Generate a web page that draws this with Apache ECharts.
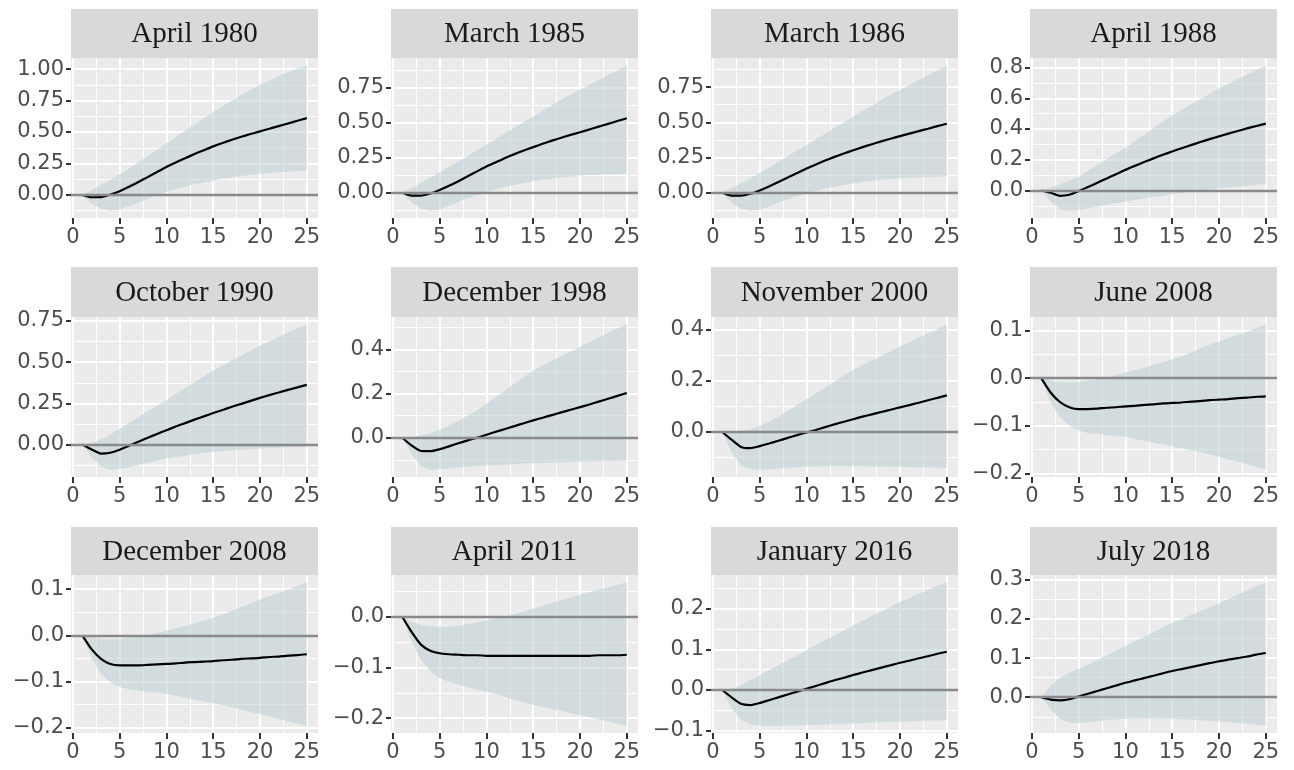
<!DOCTYPE html>
<html><head><meta charset="utf-8">
<script src="https://cdn.jsdelivr.net/npm/echarts@6/dist/echarts.min.js"></script>
<style>html,body{margin:0;padding:0;background:#fff}#c{width:1294px;height:770px}</style>
</head><body><div id="c"></div>
<script>
// ---------------- data ----------------
const horizons = [1,2,3,4,5,6,7,8,9,10,11,12,13,14,15,16,17,18,19,20,21,22,23,24,25];
const titles = ['April 1980','March 1985','March 1986','April 1988','October 1990','December 1998',
  'November 2000','June 2008','December 2008','April 2011','January 2016','July 2018'];
const xTicks = [0,5,10,15,20,25];

const irf1 = [0,-0.018,-0.017,0.003,0.03,0.065,0.103,0.142,0.183,0.223,0.258,0.292,0.325,0.356,0.386,0.413,0.438,0.462,0.484,0.505,0.526,0.547,0.568,0.589,0.61];
const upper1 = [0,0.04,0.08,0.12,0.165,0.21,0.26,0.31,0.36,0.41,0.46,0.51,0.56,0.61,0.66,0.705,0.75,0.795,0.835,0.875,0.91,0.945,0.975,1.005,1.03];
const lower1 = [0,-0.07,-0.11,-0.125,-0.115,-0.09,-0.06,-0.03,0.0,0.025,0.045,0.065,0.085,0.1,0.115,0.128,0.14,0.15,0.16,0.168,0.175,0.18,0.185,0.19,0.195];
const yTicks1 = [0,0.25,0.5,0.75,1.0];

const irf2 = [0,-0.02,-0.02,-0.005,0.02,0.05,0.083,0.118,0.153,0.188,0.218,0.248,0.276,0.302,0.326,0.35,0.372,0.393,0.413,0.432,0.452,0.472,0.492,0.512,0.532];
const upper2 = [0,0.035,0.07,0.105,0.145,0.185,0.225,0.265,0.305,0.345,0.385,0.425,0.465,0.505,0.545,0.585,0.625,0.665,0.7,0.735,0.77,0.805,0.84,0.875,0.91];
const lower2 = [0,-0.07,-0.113,-0.128,-0.12,-0.095,-0.065,-0.04,-0.015,0.005,0.025,0.042,0.057,0.07,0.082,0.093,0.102,0.11,0.117,0.123,0.127,0.13,0.132,0.134,0.136];
const yTicks2 = [0,0.25,0.5,0.75];

const irf3 = [0,-0.02,-0.02,-0.007,0.017,0.045,0.076,0.108,0.14,0.172,0.201,0.229,0.255,0.279,0.302,0.324,0.345,0.365,0.384,0.402,0.42,0.438,0.455,0.473,0.49];
const upper3 = [0,0.035,0.068,0.102,0.14,0.18,0.22,0.26,0.3,0.34,0.38,0.42,0.46,0.5,0.54,0.58,0.62,0.66,0.695,0.73,0.765,0.8,0.835,0.87,0.905];
const lower3 = [0,-0.07,-0.113,-0.127,-0.12,-0.097,-0.07,-0.045,-0.022,-0.003,0.015,0.03,0.044,0.056,0.067,0.077,0.085,0.092,0.098,0.103,0.107,0.11,0.112,0.114,0.115];
const yTicks3 = [0,0.25,0.5,0.75];

const irf4 = [0,-0.015,-0.035,-0.028,-0.005,0.022,0.05,0.078,0.106,0.134,0.16,0.185,0.209,0.232,0.254,0.275,0.295,0.315,0.334,0.352,0.37,0.387,0.404,0.42,0.435];
const upper4 = [0,0.02,0.04,0.065,0.09,0.128,0.166,0.204,0.242,0.28,0.322,0.364,0.406,0.448,0.49,0.525,0.56,0.595,0.63,0.665,0.695,0.725,0.755,0.785,0.815];
const lower4 = [0,-0.07,-0.12,-0.132,-0.128,-0.118,-0.105,-0.093,-0.082,-0.072,-0.062,-0.052,-0.043,-0.034,-0.025,-0.017,-0.009,-0.002,0.005,0.012,0.019,0.025,0.031,0.037,0.043];
const yTicks4 = [0,0.2,0.4,0.6,0.8];

const irf5 = [0,-0.03,-0.055,-0.05,-0.032,-0.008,0.017,0.041,0.064,0.087,0.109,0.13,0.151,0.171,0.191,0.21,0.229,0.247,0.265,0.283,0.3,0.316,0.332,0.347,0.362];
const upper5 = [0,0.01,0.03,0.06,0.095,0.13,0.165,0.2,0.235,0.27,0.306,0.342,0.378,0.414,0.45,0.48,0.51,0.54,0.57,0.6,0.627,0.654,0.68,0.705,0.73];
const lower5 = [0,-0.08,-0.133,-0.153,-0.15,-0.138,-0.124,-0.11,-0.097,-0.085,-0.075,-0.066,-0.058,-0.051,-0.045,-0.04,-0.035,-0.031,-0.027,-0.024,-0.021,-0.019,-0.017,-0.015,-0.013];
const yTicks5 = [0,0.25,0.5,0.75];

const irf6 = [0,-0.035,-0.06,-0.061,-0.052,-0.039,-0.025,-0.012,0.0,0.014,0.027,0.04,0.053,0.066,0.079,0.091,0.103,0.115,0.127,0.139,0.151,0.164,0.177,0.19,0.203];
const upper6 = [0,0.003,0.01,0.02,0.035,0.055,0.077,0.1,0.125,0.155,0.185,0.215,0.245,0.275,0.305,0.328,0.35,0.371,0.392,0.412,0.433,0.454,0.475,0.495,0.515];
const lower6 = [0,-0.075,-0.128,-0.145,-0.143,-0.139,-0.135,-0.132,-0.129,-0.126,-0.124,-0.122,-0.12,-0.118,-0.116,-0.114,-0.113,-0.111,-0.11,-0.109,-0.108,-0.107,-0.106,-0.105,-0.104];
const yTicks6 = [0,0.2,0.4];

const irf7 = [0,-0.03,-0.058,-0.063,-0.055,-0.045,-0.034,-0.023,-0.012,-0.002,0.008,0.019,0.03,0.04,0.05,0.06,0.069,0.078,0.087,0.096,0.105,0.114,0.124,0.133,0.143];
const upper7 = [0,0.0,0.003,0.01,0.022,0.04,0.06,0.082,0.105,0.128,0.151,0.174,0.197,0.22,0.243,0.261,0.279,0.297,0.315,0.333,0.35,0.367,0.384,0.401,0.42];
const lower7 = [0,-0.08,-0.13,-0.145,-0.147,-0.145,-0.142,-0.139,-0.137,-0.135,-0.134,-0.133,-0.133,-0.133,-0.133,-0.133,-0.134,-0.134,-0.135,-0.135,-0.136,-0.137,-0.138,-0.139,-0.14];
const yTicks7 = [0,0.2,0.4];

const irf8 = [0,-0.03,-0.05,-0.061,-0.065,-0.065,-0.064,-0.062,-0.061,-0.059,-0.058,-0.056,-0.055,-0.053,-0.052,-0.051,-0.049,-0.048,-0.046,-0.045,-0.044,-0.042,-0.041,-0.039,-0.038];
const upper8 = [0,-0.005,-0.008,-0.009,-0.008,-0.005,-0.002,0.001,0.006,0.012,0.017,0.022,0.028,0.033,0.039,0.046,0.054,0.062,0.07,0.077,0.084,0.091,0.098,0.105,0.113];
const lower8 = [0,-0.05,-0.082,-0.1,-0.11,-0.115,-0.117,-0.119,-0.121,-0.123,-0.127,-0.131,-0.135,-0.139,-0.143,-0.147,-0.151,-0.155,-0.16,-0.165,-0.17,-0.175,-0.18,-0.186,-0.192];
const yTicks8 = [-0.2,-0.1,0,0.1];

const irf9 = [0,-0.03,-0.051,-0.062,-0.065,-0.065,-0.065,-0.064,-0.063,-0.062,-0.061,-0.059,-0.058,-0.057,-0.056,-0.054,-0.053,-0.051,-0.05,-0.049,-0.047,-0.046,-0.044,-0.043,-0.041];
const upper9 = [0,-0.005,-0.008,-0.009,-0.008,-0.005,-0.002,0.001,0.005,0.01,0.015,0.02,0.026,0.032,0.038,0.045,0.053,0.061,0.069,0.077,0.085,0.092,0.099,0.107,0.115];
const lower9 = [0,-0.05,-0.083,-0.102,-0.112,-0.117,-0.12,-0.122,-0.124,-0.127,-0.131,-0.135,-0.139,-0.143,-0.147,-0.151,-0.156,-0.161,-0.166,-0.171,-0.176,-0.181,-0.186,-0.191,-0.196];
const yTicks9 = [-0.2,-0.1,0,0.1];

const irf10 = [0,-0.03,-0.055,-0.067,-0.072,-0.074,-0.075,-0.076,-0.076,-0.077,-0.077,-0.077,-0.077,-0.077,-0.077,-0.077,-0.077,-0.077,-0.077,-0.077,-0.077,-0.076,-0.076,-0.076,-0.075];
const upper10 = [0,-0.01,-0.016,-0.019,-0.02,-0.02,-0.018,-0.015,-0.011,-0.007,-0.003,0.0,0.005,0.01,0.016,0.021,0.027,0.032,0.038,0.043,0.048,0.053,0.058,0.063,0.068];
const lower10 = [0,-0.05,-0.085,-0.108,-0.121,-0.128,-0.134,-0.139,-0.144,-0.148,-0.153,-0.158,-0.164,-0.169,-0.174,-0.178,-0.182,-0.186,-0.19,-0.194,-0.198,-0.202,-0.206,-0.211,-0.215];
const yTicks10 = [-0.2,-0.1,0];

const irf11 = [0,-0.018,-0.034,-0.037,-0.032,-0.025,-0.018,-0.011,-0.004,0.003,0.01,0.017,0.024,0.03,0.037,0.043,0.049,0.055,0.061,0.067,0.072,0.078,0.083,0.089,0.094];
const upper11 = [0,0.004,0.012,0.024,0.037,0.049,0.061,0.073,0.085,0.098,0.11,0.122,0.134,0.146,0.159,0.17,0.182,0.193,0.205,0.216,0.226,0.236,0.246,0.256,0.265];
const lower11 = [0,-0.045,-0.074,-0.085,-0.088,-0.088,-0.088,-0.087,-0.087,-0.086,-0.086,-0.085,-0.084,-0.083,-0.082,-0.081,-0.08,-0.079,-0.078,-0.078,-0.077,-0.076,-0.075,-0.075,-0.074];
const yTicks11 = [-0.1,0,0.1,0.2];

const irf12 = [0,-0.006,-0.008,-0.005,0.002,0.009,0.016,0.023,0.03,0.037,0.043,0.049,0.055,0.061,0.067,0.072,0.077,0.082,0.087,0.092,0.096,0.1,0.104,0.109,0.113];
const upper12 = [0,0.03,0.05,0.062,0.072,0.083,0.095,0.107,0.118,0.13,0.142,0.154,0.166,0.178,0.19,0.2,0.21,0.22,0.23,0.24,0.251,0.262,0.273,0.284,0.294];
const lower12 = [0,-0.03,-0.055,-0.065,-0.066,-0.064,-0.061,-0.058,-0.056,-0.055,-0.054,-0.054,-0.054,-0.055,-0.055,-0.056,-0.057,-0.059,-0.06,-0.062,-0.064,-0.066,-0.068,-0.07,-0.073];
const yTicks12 = [0,0.1,0.2,0.3];

const irfs = [irf1,irf2,irf3,irf4,irf5,irf6,irf7,irf8,irf9,irf10,irf11,irf12];
const uppers = [upper1,upper2,upper3,upper4,upper5,upper6,upper7,upper8,upper9,upper10,upper11,upper12];
const lowers = [lower1,lower2,lower3,lower4,lower5,lower6,lower7,lower8,lower9,lower10,lower11,lower12];
const yTicks = [yTicks1,yTicks2,yTicks3,yTicks4,yTicks5,yTicks6,yTicks7,yTicks8,yTicks9,yTicks10,yTicks11,yTicks12];
const yDecimals = [2,2,2,1,2,1,1,1,1,1,1,1];

// ---------------- layout / style ----------------
const colLeft = [71, 391, 711, 1030], plotW = 247;
const stripTop = [9, 267, 527];
const plotTop = [58, 317, 575], plotH = [160, 160, 158];
const BG = '#EBEBEB', STRIP = '#D9D9D9', GRIDC = '#FFFFFF';
const RIBBON = 'rgba(189,205,209,0.55)';
const LABEL_FONT = 'DejaVu Sans', TITLE_FONT = 'Liberation Serif';

function expand(lo, hi) { const d = (hi - lo) * 0.05; return [lo - d, hi + d]; }
function r6(v) { return Math.round(v * 1e6) / 1e6; }
function minorsOf(major, lo, hi) {
  const step = major[1] - major[0], out = [];
  for (let k = -1; k < major.length; k++) {
    const v = r6(major[0] + (k + 0.5) * step);
    if (v > lo && v < hi) out.push(v);
  }
  return out;
}
function fmt(v, dec) {
  let s = Math.abs(v) < 1e-9 ? (0).toFixed(dec) : v.toFixed(dec);
  return s.replace('-', '\u2212');
}

const [xMin, xMax] = expand(horizons[0], horizons[horizons.length - 1]);
const xMinor = minorsOf(xTicks, xMin, xMax);

const grid = [], xAxis = [], yAxis = [], series = [], graphic = [];
titles.forEach((title, i) => {
  const r = Math.floor(i / 4), c = i % 4;
  const irf = irfs[i], up = uppers[i], lo = lowers[i];
  const allV = irf.concat(up, lo, [0]);
  const [yMin, yMax] = expand(Math.min(...allV), Math.max(...allV));
  const yMinor = minorsOf(yTicks[i], yMin, yMax);
  const dec = yDecimals[i];

  grid.push({ left: colLeft[c], top: plotTop[r], width: plotW, height: plotH[r],
    show: true, backgroundColor: BG, borderWidth: 0, outerBoundsMode: 'none' });

  const labelStyle = { color: '#4D4D4D', fontFamily: LABEL_FONT, fontSize: 21 };
  xAxis.push({ gridIndex: i, type: 'value', min: xMin, max: xMax, position: 'bottom',
    axisLine: { show: false, onZero: false },
    axisTick: { show: true, length: 6, lineStyle: { color: '#333333', width: 2 }, customValues: xTicks },
    axisLabel: Object.assign({ customValues: xTicks, margin: 9, formatter: v => String(v) }, labelStyle),
    splitLine: { show: true, lineStyle: { color: GRIDC, width: 2 } } });
  xAxis.push({ gridIndex: i, type: 'value', min: xMin, max: xMax, position: 'bottom',
    axisLine: { show: false, onZero: false }, axisLabel: { show: false },
    axisTick: { show: false, customValues: xMinor },
    splitLine: { show: true, lineStyle: { color: GRIDC, width: 1 } } });
  yAxis.push({ gridIndex: i, type: 'value', min: yMin, max: yMax, position: 'left',
    axisLine: { show: false, onZero: false },
    axisTick: { show: true, length: 5, lineStyle: { color: '#333333', width: 2 }, customValues: yTicks[i] },
    axisLabel: Object.assign({ customValues: yTicks[i], margin: 7, formatter: v => fmt(v, dec) }, labelStyle),
    splitLine: { show: true, lineStyle: { color: GRIDC, width: 2 } } });
  yAxis.push({ gridIndex: i, type: 'value', min: yMin, max: yMax, position: 'left',
    axisLine: { show: false, onZero: false }, axisLabel: { show: false },
    axisTick: { show: false, customValues: yMinor },
    splitLine: { show: true, lineStyle: { color: GRIDC, width: 1 } } });

  const xi = 2 * i, yi = 2 * i;
  const bandData = horizons.map((h, k) => [h, lo[k], up[k]]);
  series.push({ type: 'custom', xAxisIndex: xi, yAxisIndex: yi, data: bandData, silent: true, z: 2, clip: true,
    encode: { x: 0, y: [1, 2] },
    renderItem: (params, api) => {
      if (params.dataIndex !== 0) return null;
      const pts = [];
      for (let k = 0; k < bandData.length; k++) pts.push(api.coord([bandData[k][0], bandData[k][2]]));
      for (let k = bandData.length - 1; k >= 0; k--) pts.push(api.coord([bandData[k][0], bandData[k][1]]));
      return { type: 'polygon', shape: { points: pts, smooth: 0 }, style: { fill: RIBBON, stroke: null } };
    } });
  series.push({ type: 'line', xAxisIndex: xi, yAxisIndex: yi, data: [], symbol: 'none', silent: true, z: 3,
    markLine: { silent: true, symbol: 'none', animation: false, label: { show: false },
      lineStyle: { color: '#8A8A8A', width: 2.4, type: 'solid' }, data: [{ yAxis: 0 }] } });
  series.push({ type: 'line', xAxisIndex: xi, yAxisIndex: yi, data: horizons.map((h, k) => [h, irf[k]]),
    symbol: 'none', smooth: 0.2, lineStyle: { color: '#000000', width: 2.2 }, silent: true, z: 4 });

  graphic.push({ type: 'rect', shape: { x: colLeft[c], y: stripTop[r], width: plotW, height: plotTop[r] - stripTop[r] },
    style: { fill: STRIP }, silent: true });
  graphic.push({ type: 'text', x: colLeft[c] + plotW / 2, y: (stripTop[r] + plotTop[r]) / 2 + 1,
    style: { text: title, fill: '#1A1A1A', font: '29px "' + TITLE_FONT + '"', align: 'center', verticalAlign: 'middle' },
    silent: true });
});

const chart = echarts.init(document.getElementById('c'), null, { renderer: 'canvas' });
chart.setOption({ animation: false, backgroundColor: '#FFFFFF', grid, xAxis, yAxis, series, graphic });
</script></body></html>
